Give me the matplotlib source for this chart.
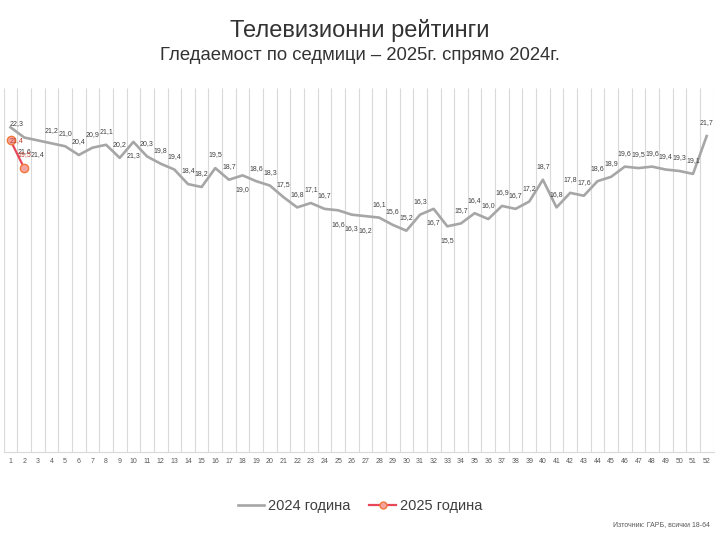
import matplotlib
matplotlib.use("Agg")
import matplotlib.pyplot as plt
from matplotlib.lines import Line2D
import numpy as np

plt.rcParams['font.family'] = ['Liberation Sans', 'DejaVu Sans']

# ---- data ----
weeks = list(range(1, 53))
ratings_2024 = [22.3, 21.6, 21.4, 21.2, 21.0, 20.4, 20.9, 21.1, 20.2, 21.3,
                20.3, 19.8, 19.4, 18.4, 18.2, 19.5, 18.7, 19.0, 18.6, 18.3,
                17.5, 16.8, 17.1, 16.7, 16.6, 16.3, 16.2, 16.1, 15.6, 15.2,
                16.3, 16.7, 15.5, 15.7, 16.4, 16.0, 16.9, 16.7, 17.2, 18.7,
                16.8, 17.8, 17.6, 18.6, 18.9, 19.6, 19.5, 19.6, 19.4, 19.3,
                19.1, 21.7]
weeks_2025 = [1, 2]
ratings_2025 = [21.4, 19.5]

title = "Телевизионни рейтинги"
subtitle = "Гледаемост по седмици – 2025г. спрямо 2024г."
series_names = ["2024 година", "2025 година"]
source = "Източник: ГАРБ, всички 18-64"

# label placement (a = above, b = below, r = right)
pos_2024 = ['r', 'b', 'b', 'a', 'a', 'a', 'a', 'a', 'a', 'b',
            'a', 'a', 'a', 'a', 'a', 'a', 'a', 'b', 'a', 'a',
            'a', 'a', 'a', 'a', 'b', 'b', 'b', 'a', 'a', 'a',
            'a', 'b', 'b', 'a', 'a', 'a', 'a', 'a', 'a', 'a',
            'a', 'a', 'a', 'a', 'a', 'a', 'a', 'a', 'a', 'a',
            'a', 'a']
pos_2025 = ['r', 'a']

GRAY = '#A6A6A6'
RED = '#E8475A'
TXT = '#404040'

fig = plt.figure(figsize=(7.2, 5.4), dpi=100)
ax = fig.add_axes([3.7 / 720, 1 - 452 / 540, 709.8 / 720, 364 / 540])

ax.set_xlim(0.5, 52.5)
ax.set_ylim(0, 25)
ax.vlines(np.arange(0.5, 53.0, 1.0), 0, 25, colors='#D9D9D9', linewidth=0.8, zorder=0)

ax.plot(weeks, ratings_2024, color=GRAY, linewidth=1.9, zorder=2,
        solid_joinstyle='round')
ax.plot(weeks_2025, ratings_2025, color=RED, linewidth=1.6, zorder=3,
        marker='o', markersize=6, markerfacecolor='#F4A3A0',
        markeredgecolor='#F07A3A', markeredgewidth=1.0)

def offs(p):
    if p == 'a':
        return (0, 9.4), 'center'
    if p == 'b':
        return (0, -10.2), 'center'
    return (-0.8, 2.5), 'left'

for w, v, p in zip(weeks, ratings_2024, pos_2024):
    o, ha = offs(p)
    ax.annotate(f"{v:.1f}".replace('.', ','), (w, v), xytext=o,
                textcoords='offset points', ha=ha, va='center',
                fontsize=5, color=TXT, zorder=5)

for w, v, p in zip(weeks_2025, ratings_2025, pos_2025):
    o, ha = offs(p)
    if p == 'r':
        o = (-0.6, 0)
    ax.annotate(f"{v:.1f}".replace('.', ','), (w, v), xytext=o,
                textcoords='offset points', ha=ha, va='center',
                fontsize=5, color='#C0392B', zorder=6)

ax.set_xticks(weeks)
ax.set_xticklabels([str(w) for w in weeks], fontsize=5, color='#595959')
ax.tick_params(axis='x', length=0, pad=4)
ax.set_yticks([])
for s in ['top', 'left', 'right']:
    ax.spines[s].set_visible(False)
ax.spines['bottom'].set_color('#D9D9D9')
ax.spines['bottom'].set_linewidth(0.8)

fig.text(0.5, 1 - 31 / 540, title, ha='center', va='center',
         fontsize=17, color='#333333')
fig.text(0.5, 1 - 56 / 540, subtitle, ha='center', va='center',
         fontsize=13.3, color='#333333')

handles = [Line2D([], [], color=GRAY, linewidth=1.9),
           Line2D([], [], color=RED, linewidth=1.6, marker='o', markersize=5,
                  markerfacecolor='#F4A3A0', markeredgecolor='#F07A3A')]
fig.legend(handles, series_names, loc='center', bbox_to_anchor=(0.5, 1 - 506 / 540),
           ncol=2, frameon=False, fontsize=10.5, handlelength=1.8,
           columnspacing=1.3, handletextpad=0.3, labelcolor=TXT)

fig.text(710 / 720, 1 - 525 / 540, source, ha='right', va='center',
         fontsize=5, color='#595959')

fig.savefig('out.png', dpi=100)
